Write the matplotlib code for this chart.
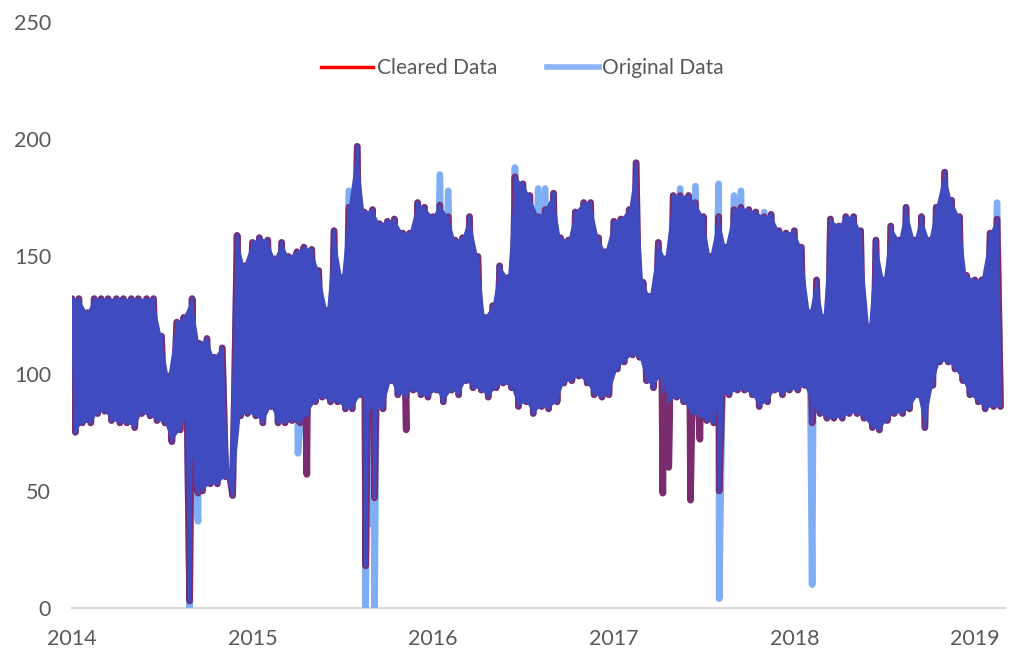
import numpy as np
import pandas as pd
import matplotlib
matplotlib.use('Agg')
import matplotlib.pyplot as plt
import matplotlib.dates as mdates
from matplotlib.lines import Line2D

plt.rcParams['font.family'] = ['Lato', 'DejaVu Sans']

# half-month periods (1st and 15th), Jan 2014 .. Feb 2019
periods = pd.date_range('2014-01-01', '2019-02-15', freq='SMS')

# peak of each half-month (cleared data)
cleared_hi = [132, 132, 126, 132, 132, 132, 132, 132, 132, 132, 132, 132,
              116, 99, 122, 124, 132, 113, 115, 107, 111, 58,
              159, 146, 156, 158, 157, 149, 156, 150,
              152, 154, 153, 144, 127, 161, 141, 171, 197, 169,
              170, 164, 165, 166, 160, 160, 173, 171, 167, 172,
              167, 157, 158, 167, 150, 124, 129, 146, 141, 184,
              181, 176, 167, 170, 177, 158, 157, 169, 173, 173,
              158, 152, 165, 166, 170, 190, 139, 133, 156, 149,
              176, 176, 176, 173, 167, 150, 167, 154, 170, 171,
              170, 169, 167, 168, 161, 160, 161, 154, 126, 140,
              124, 166, 163, 167, 167, 161, 120, 157, 140, 163,
              157, 171, 157, 167, 157, 171, 186, 174, 167, 142,
              140, 140, 160, 166]

# trough a week later in each half-month
cleared_lo = [75, 79, 79, 83, 84, 80, 79, 79, 77, 83, 82, 80,
              79, 71, 76, 82, 53, 50, 53, 53, 56, 48,
              82, 83, 82, 79, 86, 79, 79, 80,
              79, 83, 88, 90, 88, 88, 85, 85, 91, 88,
              85, 85, 97, 91, 91, 93, 91, 90, 93, 88,
              93, 91, 97, 94, 93, 90, 94, 96, 94, 86,
              88, 83, 86, 85, 88, 96, 97, 99, 96, 91,
              90, 91, 102, 105, 108, 107, 97, 94, 100, 88,
              90, 88, 83, 82, 80, 79, 91, 91, 93, 93,
              91, 86, 88, 93, 91, 93, 93, 95, 86, 83,
              81, 81, 81, 83, 83, 81, 77, 76, 80, 83,
              83, 85, 91, 77, 95, 105, 105, 102, 97, 91,
              88, 85, 86, 86]

# half-months where the original peak was higher than the cleared one
orig_peak_k = [37, 49, 50, 59, 62, 63, 81, 83, 86, 88, 89, 92, 123]
orig_peak_val = [178, 185, 178, 188, 179, 179, 179, 180, 181, 176, 178, 169, 173]

# single-day outliers
dip_dates = ['2014-08-27', '2014-09-13', '2015-04-03', '2015-04-21', '2015-08-18',
             '2015-08-28', '2015-09-05', '2015-11-08', '2017-04-10', '2017-04-22',
             '2017-06-05', '2017-06-24', '2017-08-02', '2018-02-06']
dip_cleared = [3, 49, 80, 57, 18, 85, 47, 76, 49, 60, 46, 72, 50, 79]
dip_original = [0, 37, 66, 82, 0, 36, 0, 90, 92, 90, 88, 85, 4, 10]

original_hi = np.array(cleared_hi, dtype=float)
original_hi[orig_peak_k] = orig_peak_val
lo_dates = periods + pd.Timedelta(days=7)

dates = np.concatenate([periods.values, lo_dates.values,
                        pd.to_datetime(dip_dates).values])
cleared = np.concatenate([cleared_hi, cleared_lo, dip_cleared]).astype(float)
original = np.concatenate([original_hi, cleared_lo, dip_original]).astype(float)
common = np.concatenate([np.minimum(cleared_hi, original_hi), cleared_lo,
                         np.maximum(dip_cleared, dip_original)]).astype(float)
order = np.argsort(dates)
dates, cleared, original, common = dates[order], cleared[order], original[order], common[order]

fig = plt.figure(figsize=(10.18, 6.51), dpi=100)
ax = fig.add_axes([0.0707, 0.066, 0.9165, 0.9])

style = dict(solid_capstyle='round', solid_joinstyle='round')
ax.plot(dates, original, color='#7FAEF5', lw=4.8, zorder=1, **style)
ax.plot(dates, cleared, color='#7B2C6F', lw=4.8, zorder=2, **style)

# body of the band where both series overlap
band_x = np.concatenate([mdates.date2num(periods), mdates.date2num(lo_dates)[::-1]])
band_y = np.concatenate([cleared_hi, cleared_lo[::-1]])
ax.fill(band_x, band_y, color='#3F4BBF', lw=0, zorder=3)
ax.plot(dates, common, color='#3F4BBF', lw=2.2, zorder=4, **style)

ax.set_ylim(0, 250)
ax.set_yticks(range(0, 251, 50))
ax.set_xlim(pd.Timestamp('2014-01-01'), pd.Timestamp('2019-03-03'))
ax.xaxis.set_major_locator(mdates.YearLocator())
ax.xaxis.set_major_formatter(mdates.DateFormatter('%Y'))

for s in ['top', 'right', 'left']:
    ax.spines[s].set_visible(False)
ax.spines['bottom'].set_color('#D9D9D9')
ax.spines['bottom'].set_linewidth(1.5)
ax.spines['bottom'].set_zorder(0)
ax.tick_params(axis='both', length=0, labelsize=15.5, colors='#595959')
ax.tick_params(axis='y', pad=15)
ax.tick_params(axis='x', pad=15)

handles = [Line2D([], [], color='#FF0000', lw=2.5),
           Line2D([], [], color='#8AB4F8', lw=4)]
ax.legend(handles, ['Cleared Data', 'Original Data'], loc='center',
          bbox_to_anchor=(0.483, 0.921), ncol=2, frameon=False, fontsize=15,
          handlelength=2.5, handletextpad=0.15, columnspacing=2.4,
          labelcolor='#595959')

fig.savefig('out.png', dpi=100)
